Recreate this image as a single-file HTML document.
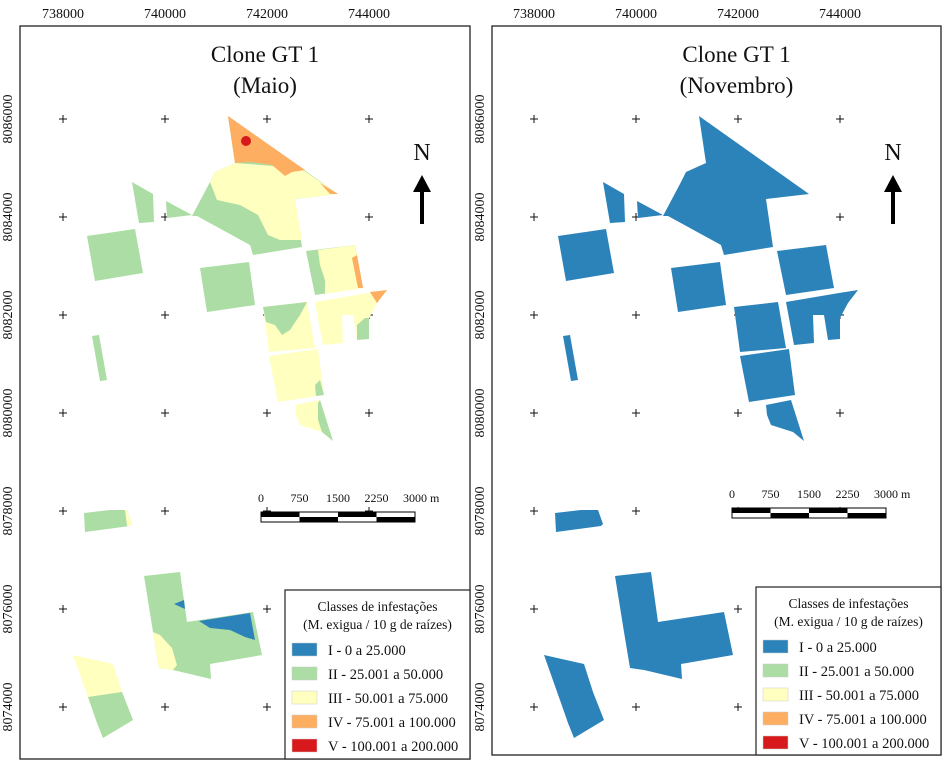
<!DOCTYPE html>
<html><head><meta charset="utf-8"><style>
body{margin:0;background:#fff;width:950px;height:763px;overflow:hidden}
svg text{font-family:"Liberation Serif",serif;fill:#111}
</style></head><body>
<svg id="map" width="950" height="763" viewBox="0 0 950 763" xmlns="http://www.w3.org/2000/svg"></svg>
<script>
const xTicks=["738000","740000","742000","744000"];
const yTicks=["8086000","8084000","8082000","8080000","8078000","8076000","8074000"];
const classLabels=["I - 0 a 25.000","II - 25.001 a 50.000","III - 50.001 a 75.000","IV - 75.001 a 100.000","V - 100.001 a 200.000"];
const classColors=["#2b83ba","#abdda4","#ffffbf","#fdae61","#d7191c"];
const scaleLabels=["0","750","1500","2250","3000 m"];
const fields=[
 [[228,116],[338,194],[295,199],[302,247],[253,255],[250,245],[197,216],[192,216],[210,182],[215,172],[235,163]],
 [[166,201],[192,215],[167,218]],
 [[132,182],[153,194],[154,222],[139,223]],
 [[87,236],[135,229],[143,273],[95,281]],
 [[200,268],[249,262],[255,305],[207,312]],
 [[306,251],[355,245],[363,288],[315,295]],
 [[315,302],[368,293],[387,290],[377,303],[369,318],[369,339],[357,340],[353,315],[342,315],[343,343],[323,345]],
 [[263,307],[307,302],[315,348],[269,352]],
 [[269,356],[318,349],[324,395],[278,402]],
 [[295,405],[320,400],[333,441],[322,432],[300,425],[296,415]],
 [[92,336],[99,335],[107,380],[100,381]],
 [[84,513],[110,510],[127,510],[132,524],[130,526],[85,532]],
 [[144,576],[180,572],[187,622],[253,612],[262,655],[210,664],[211,679],[173,670],[159,668],[153,632]],
 [[73,655],[113,664],[122,692],[133,720],[103,738],[97,723],[90,703]]
];
const mayClass=[1,1,1,1,1,1,2,2,2,2,1,1,1,2];
const patches=[
 {c:2,p:[[210,182],[215,172],[235,163],[300,168],[338,194],[295,199],[302,240],[280,240],[268,235],[258,215],[240,205],[217,200]]},
 {c:3,p:[[228,116],[305,170],[292,172],[285,176],[272,165],[250,162],[235,163]]},
 {c:3,p:[[320,183],[338,194],[330,194]]},
 {c:2,p:[[318,250],[355,245],[363,288],[325,294],[325,280],[320,265]]},
 {c:3,p:[[352,258],[357,255],[363,288],[358,288]]},
 {c:3,p:[[370,292],[387,290],[377,303]]},
 {c:1,p:[[357,325],[365,318],[369,318],[369,339],[357,340]]},
 {c:1,p:[[263,307],[307,302],[300,315],[290,330],[282,335],[275,325],[266,322]]},
 {c:1,p:[[315,385],[320,380],[324,395],[316,396]]},
 {c:1,p:[[318,403],[320,400],[333,441],[322,432],[318,420]]},
 {c:2,p:[[125,510],[127,510],[132,524],[130,526],[127,526]]},
 {c:0,p:[[174,604],[184,600],[185,609]]},
 {c:0,p:[[199,621],[250,613],[255,640],[245,637],[230,630],[210,628]]},
 {c:2,p:[[153,632],[160,635],[172,648],[177,665],[173,670],[159,668]]},
 {c:1,p:[[88,697],[122,692],[133,720],[103,738],[97,723]]}
];
const NS="http://www.w3.org/2000/svg";
const svg=document.getElementById('map');
function mk(t,a,parent){const e=document.createElementNS(NS,t);for(const k in a)e.setAttribute(k,a[k]);(parent||svg).appendChild(e);return e;}
function pts(p,dx){return p.map(q=>(q[0]+dx)+","+q[1]).join(" ");}
function xPos(i,dx){return 63+i*102+dx;}
function yPos(i){return 119+i*98;}
const panels=[{dx:0,fx:20,fw:450,fh:733,title:"(Maio)",may:true,legY:590},{dx:471,fx:492,fw:449,fh:729,title:"(Novembro)",may:false,legY:587}];
panels.forEach((P,pi)=>{
 const g=mk('g',{});
 
 
 mk('rect',{x:P.fx,y:26,width:P.fw,height:P.fh,fill:'#fff',stroke:'#222','stroke-width':1.3},g);
 xTicks.forEach((t,i)=>{const e=mk('text',{x:xPos(i,P.dx),y:18,'font-size':14,'text-anchor':'middle'},g);e.textContent=t;
  });
 yTicks.forEach((t,i)=>{const y=yPos(i);const lx=P.fx-8;
  const e=mk('text',{x:lx,y:y,'font-size':14,'text-anchor':'middle',transform:`rotate(-90 ${lx} ${y})`},g);e.textContent=t;
  
  xTicks.forEach((_,j)=>{const x=xPos(j,P.dx);mk('path',{d:`M${x-4} ${y}h8M${x} ${y-4}v8`,stroke:'#111','stroke-width':1},g);});
 });
 fields.forEach((f,i)=>{const e=mk('polygon',{points:pts(f,P.dx),fill:classColors[P.may?mayClass[i]:0]},g);
  });
 if(P.may){patches.forEach(p=>{const e=mk('polygon',{points:pts(p.p,0),fill:classColors[p.c]},g);
  });
  const d=mk('circle',{cx:246,cy:141,r:5,fill:classColors[4]},g);
  }
 const cx=(P.fx+P.fx+P.fw)/2+20;
 let t=mk('text',{x:cx,y:62,'font-size':23,'text-anchor':'middle'},g);t.textContent="Clone GT 1";
 
 t=mk('text',{x:cx,y:93,'font-size':23,'text-anchor':'middle'},g);t.textContent=P.title;
 
 const nx=422+P.dx;
 t=mk('text',{x:nx,y:160,'font-size':24,'text-anchor':'middle'},g);t.textContent="N";
 
 const ar=mk('path',{d:`M${nx} 175L${nx+9} 192H${nx+2}V224H${nx-2}V192H${nx-9}Z`,fill:'#000'},g);
 
 const sx=261+P.dx, sy=P.may?512:508;
 scaleLabels.forEach((s,i)=>{const e=mk('text',{x:sx+i*38.5,y:sy-10,'font-size':12,'text-anchor':i==4?'start':'middle'},g);
  if(i==4)e.setAttribute('x',sx+i*38.5-12);e.textContent=s;
  });
 mk('rect',{x:sx,y:sy,width:154,height:10,fill:'#fff',stroke:'#000','stroke-width':1},g);
 for(let i=0;i<4;i++){mk('rect',{x:sx+i*38.5,y:sy+(i%2?5:0),width:38.5,height:5,fill:'#000'},g);}
 const lx=P.may?285:756, ly=P.legY, lw=P.fx+P.fw-lx;
 const lg=mk('g',{},g);
 mk('rect',{x:lx,y:ly,width:lw,height:26+P.fh-ly,fill:'#fff',stroke:'#222','stroke-width':1.2},lg);
 t=mk('text',{x:lx+lw/2,y:ly+21,'font-size':13.5,'text-anchor':'middle'},lg);t.textContent="Classes de infestações";
 
 t=mk('text',{x:lx+lw/2,y:ly+39,'font-size':13.5,'text-anchor':'middle'},lg);t.textContent="(M. exigua / 10 g de raízes)";
 
 classLabels.forEach((c,i)=>{const y=ly+53+i*24;
  const r=mk('rect',{x:lx+7,y:y,width:25,height:13,fill:classColors[i],stroke:'#ccc','stroke-width':0.5},lg);
  
  const e=mk('text',{x:lx+43,y:y+12,'font-size':14.5},lg);e.textContent=c;
  });
});
</script>
</body></html>
